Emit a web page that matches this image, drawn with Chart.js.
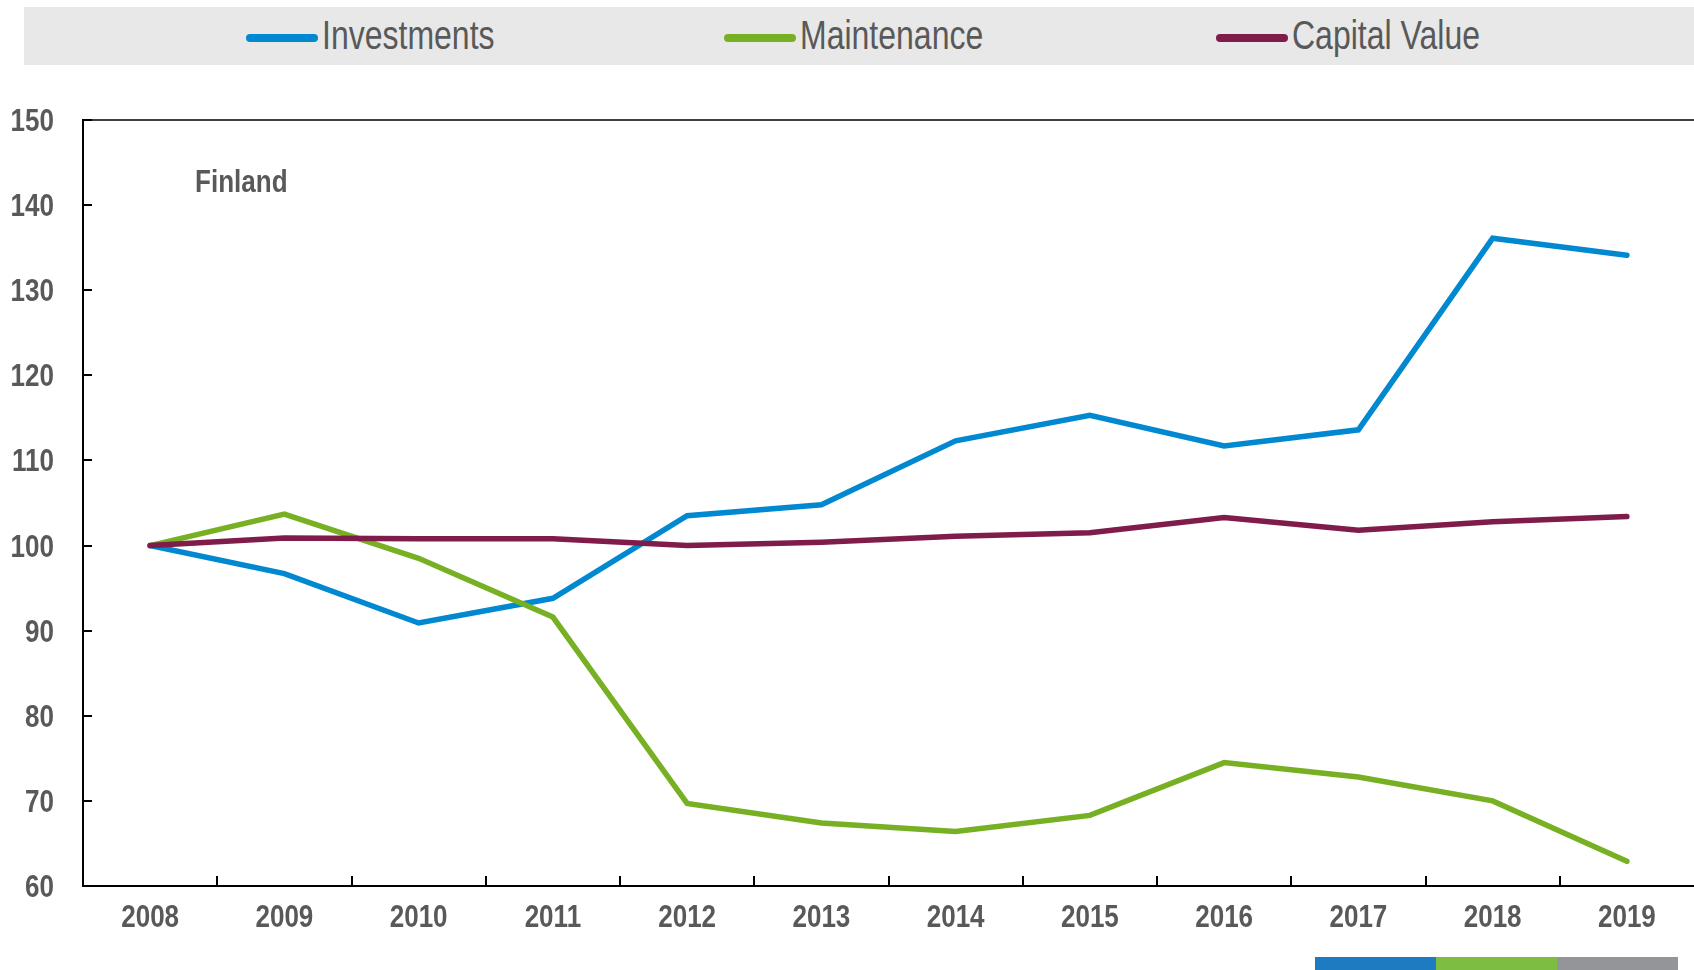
<!DOCTYPE html>
<html>
<head>
    <title>Finland - Investments, Maintenance, Capital Value</title>
    <script src="https://cdn.jsdelivr.net/npm/chart.js@4/dist/chart.umd.min.js"></script>
    <style>
        body {
            margin: 0;
            background-color: white;
            font-family: "Liberation Sans", Arial, sans-serif;
        }
        .page {
            position: relative;
            width: 1694px;
            height: 970px;
            overflow: hidden;
        }
        #chart {
            position: absolute;
            left: 0;
            top: 0;
        }
        .legend {
            position: absolute;
            left: 24px;
            top: 7px;
            width: 1670px;
            height: 58px;
            background-color: #e8e8e8;
        }
        .legend-line {
            position: absolute;
            top: 27px;
            width: 72px;
            height: 8px;
            border-radius: 4px;
        }
        .legend-text {
            position: absolute;
            top: 8px;
            font-size: 40px;
            line-height: 40px;
            color: #595959;
            white-space: nowrap;
            transform: scaleX(0.8);
            transform-origin: left center;
        }
        .country {
            position: absolute;
            left: 195px;
            top: 166px;
            font-size: 31px;
            line-height: 31px;
            font-weight: bold;
            color: #595959;
            transform: scaleX(0.84);
            transform-origin: left center;
        }
        .strip {
            position: absolute;
            top: 957px;
            height: 13px;
            width: 121px;
        }
    </style>
</head>
<body>
<div class="page">
    <canvas id="chart" width="1694" height="970"></canvas>
    <div class="legend" id="legend"></div>
    <div class="country">Finland</div>
    <div class="strip" style="left:1315px;background:#1f7bc1"></div>
    <div class="strip" style="left:1436px;background:#7dbe42"></div>
    <div class="strip" style="left:1557px;background:#939598"></div>
</div>

<script>
    const years = ['2008', '2009', '2010', '2011', '2012', '2013', '2014', '2015', '2016', '2017', '2018', '2019'];
    const investments = [100, 96.7, 90.9, 93.8, 103.5, 104.8, 112.3, 115.3, 111.7, 113.6, 136.1, 134.1];
    const maintenance = [100, 103.7, 98.5, 91.6, 69.7, 67.4, 66.4, 68.3, 74.5, 72.8, 70.0, 62.9];
    const capitalValue = [100, 100.9, 100.8, 100.8, 100.0, 100.4, 101.1, 101.5, 103.3, 101.8, 102.8, 103.4];
    const seriesNames = ['Investments', 'Maintenance', 'Capital Value'];
    const seriesColors = ['#0088d1', '#78b023', '#7f1c4a'];
    const yMin = 60, yMax = 150, yStep = 10;

    const textColor = '#595959';
    const fontFamily = '"Liberation Sans", Arial, sans-serif';
    const narrow = 0.84;   // no narrow font installed, squeeze the labels instead

    // html legend on a grey band (left offsets inside the band)
    const legendEl = document.getElementById('legend');
    const legendLeft = [222, 700, 1192];
    seriesNames.forEach((name, i) => {
        const line = document.createElement('div');
        line.className = 'legend-line';
        line.style.left = legendLeft[i] + 'px';
        line.style.background = seriesColors[i];
        const text = document.createElement('div');
        text.className = 'legend-text';
        text.style.left = (legendLeft[i] + 76) + 'px';
        text.textContent = name;
        legendEl.appendChild(line);
        legendEl.appendChild(text);
    });

    // tick marks inside the plot, the top frame line and squeezed tick labels
    const axisDecor = {
        id: 'axisDecor',
        afterDraw(chart) {
            const ctx = chart.ctx;
            const x = chart.scales.x;
            const y = chart.scales.y;
            const area = chart.chartArea;
            ctx.save();
            ctx.strokeStyle = '#000';
            ctx.lineWidth = 2;
            ctx.beginPath();
            y.ticks.forEach((t, i) => {
                const py = Math.round(y.getPixelForTick(i));
                ctx.moveTo(area.left, py);
                ctx.lineTo(area.left + 9, py);
            });
            for (let i = 1; i < x.ticks.length; i++) {
                const px = Math.round((x.getPixelForTick(i - 1) + x.getPixelForTick(i)) / 2);
                ctx.moveTo(px, area.bottom);
                ctx.lineTo(px, area.bottom - 10);
            }
            ctx.stroke();
            ctx.lineWidth = 1.5;
            ctx.beginPath();
            ctx.moveTo(area.left, area.top);
            ctx.lineTo(area.right, area.top);
            ctx.stroke();

            ctx.fillStyle = textColor;
            ctx.font = 'bold 31px ' + fontFamily;
            ctx.textBaseline = 'alphabetic';
            y.ticks.forEach((t, i) => {
                const py = y.getPixelForTick(i);
                ctx.save();
                ctx.translate(area.left - 29, py + 11);
                ctx.scale(narrow, 1);
                ctx.textAlign = 'right';
                ctx.fillText(String(t.value), 0, 0);
                ctx.restore();
            });
            x.ticks.forEach((t, i) => {
                const px = x.getPixelForTick(i);
                ctx.save();
                ctx.translate(px, area.bottom + 41);
                ctx.scale(narrow, 1);
                ctx.textAlign = 'center';
                ctx.fillText(years[i], 0, 0);
                ctx.restore();
            });
            ctx.restore();
        }
    };

    const datasets = [investments, maintenance, capitalValue].map((data, i) => ({
        label: seriesNames[i],
        data: data,
        borderColor: seriesColors[i],
        backgroundColor: seriesColors[i],
        borderWidth: 5.5,
        pointRadius: 0,
        tension: 0,
        borderJoinStyle: 'miter',
        borderCapStyle: 'round'
    }));

    new Chart(document.getElementById('chart'), {
        type: 'line',
        data: {
            labels: years,
            datasets: datasets.reverse()
        },
        options: {
            responsive: false,
            animation: false,
            layout: {
                padding: { top: 120, left: 0, right: 0, bottom: 0 }
            },
            plugins: {
                legend: { display: false },
                tooltip: { enabled: false }
            },
            scales: {
                x: {
                    offset: true,
                    grid: { display: false },
                    border: { display: true, color: '#000', width: 2 },
                    ticks: { display: false },
                    afterFit(scale) { scale.height = 84; }
                },
                y: {
                    min: yMin,
                    max: yMax,
                    grid: { display: false },
                    border: { display: true, color: '#000', width: 2 },
                    ticks: { display: false, stepSize: yStep },
                    afterFit(scale) { scale.width = 83; }
                }
            }
        },
        plugins: [axisDecor]
    });
</script>
</body>
</html>
